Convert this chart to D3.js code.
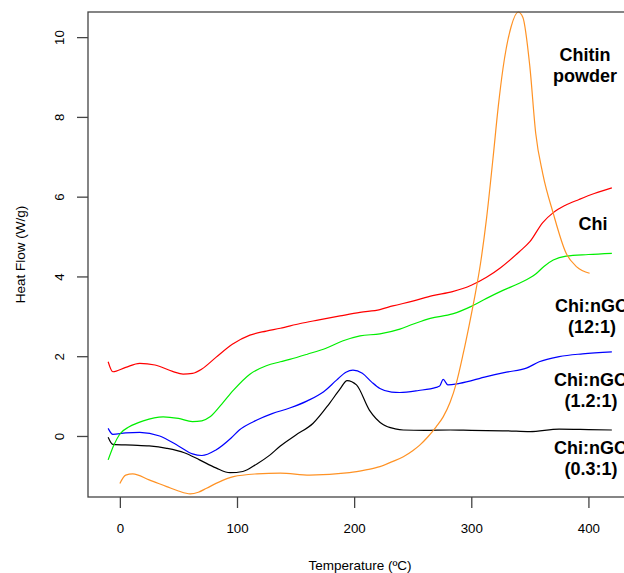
<!DOCTYPE html>
<html>
<head>
<meta charset="utf-8">
<script src="https://cdn.jsdelivr.net/npm/d3@7"></script>
<style>
  html, body { margin: 0; padding: 0; background: #fff; }
  svg { display: block; font-family: "Liberation Sans", Arial, sans-serif; }
</style>
</head>
<body>
<svg id="chart" width="624" height="573"></svg>
<script>
// ---- Data ----
const xTicks = [0, 100, 200, 300, 400];
const yTicks = [0, 2, 4, 6, 8, 10];

const chiT = [-10, -6, 5, 17, 30, 45, 54, 62, 70, 82, 96, 111, 125, 137, 154, 170, 188, 205, 222, 233, 250, 267, 284, 300, 313, 325, 341, 350, 361, 370, 380, 392, 405, 420];
const chiH = [1.86, 1.61, 1.72, 1.82, 1.78, 1.62, 1.55, 1.57, 1.68, 1.97, 2.30, 2.53, 2.63, 2.70, 2.82, 2.91, 3.01, 3.10, 3.17, 3.26, 3.38, 3.52, 3.62, 3.78, 3.98, 4.22, 4.62, 4.87, 5.35, 5.60, 5.78, 5.93, 6.08, 6.22];

const g12T = [-10, -5, 0, 8, 20, 37, 50, 62, 70, 77, 87, 97, 111, 125, 137, 145, 160, 176, 190, 205, 222, 239, 250, 265, 284, 300, 313, 327, 341, 355, 362, 370, 381, 400, 420];
const g12H = [-0.60, -0.22, 0.05, 0.23, 0.38, 0.48, 0.44, 0.36, 0.38, 0.48, 0.80, 1.15, 1.55, 1.76, 1.86, 1.92, 2.05, 2.20, 2.38, 2.51, 2.56, 2.68, 2.80, 2.95, 3.06, 3.25, 3.45, 3.65, 3.83, 4.06, 4.25, 4.41, 4.51, 4.55, 4.58];

const g12bT = [-10, -6, 5, 17, 34, 50, 62, 70, 82, 95, 102, 117, 130, 145, 160, 174, 185, 193, 199, 207, 215, 222, 232, 239, 255, 270, 273, 276, 280, 290, 313, 330, 347, 358, 375, 395, 420];
const g12bH = [0.19, 0.04, 0.08, 0.09, 0.00, -0.25, -0.45, -0.49, -0.35, -0.05, 0.15, 0.40, 0.56, 0.70, 0.88, 1.11, 1.40, 1.60, 1.65, 1.57, 1.35, 1.19, 1.10, 1.09, 1.14, 1.22, 1.25, 1.42, 1.28, 1.32, 1.49, 1.60, 1.70, 1.86, 1.99, 2.06, 2.11];

const g03T = [-10, -6, 11, 25, 40, 55, 68, 82, 94, 105, 117, 128, 137, 150, 165, 179, 188, 194, 202, 213, 225, 235, 242, 260, 282, 300, 330, 350, 375, 400, 420];
const g03H = [-0.03, -0.21, -0.23, -0.25, -0.31, -0.42, -0.60, -0.80, -0.92, -0.89, -0.70, -0.48, -0.25, 0.02, 0.32, 0.82, 1.18, 1.39, 1.28, 0.65, 0.28, 0.18, 0.15, 0.14, 0.15, 0.14, 0.13, 0.11, 0.17, 0.16, 0.15];

const chitinT = [0, 5, 11, 25, 40, 50, 60, 67, 74, 85, 97, 117, 137, 162, 196, 210, 222, 232, 242, 250, 256, 263, 270, 276, 282, 287, 293, 298, 303, 308, 313, 318.5, 323, 327, 334, 340, 344, 350, 355, 361, 370, 381, 390, 401];
const chitinH = [-1.19, -0.98, -0.95, -1.10, -1.27, -1.38, -1.45, -1.41, -1.31, -1.15, -1.02, -0.95, -0.93, -0.98, -0.92, -0.85, -0.77, -0.65, -0.52, -0.37, -0.23, -0.02, 0.23, 0.48, 0.85, 1.30, 2.05, 2.75, 3.50, 4.35, 5.45, 6.95, 8.25, 9.20, 10.26, 10.63, 10.50, 9.26, 7.59, 6.58, 5.58, 4.58, 4.24, 4.08];

const seriesNames = ["Chitin powder", "Chi", "Chi:nGO (12:1)", "Chi:nGO (1.2:1)", "Chi:nGO (0.3:1)"];
const seriesColors = ["#FF9224", "#FF0000", "#00EE00", "#0000FF", "#000000"];

// ---- Layout ----
const svg = d3.select("#chart");
const mLeft = 88, mRight = 632, mTop = 12, mBottom = 497;

const x = d3.scaleLinear().domain([-27.2, 437.2]).range([mLeft, mRight]);
const y = d3.scaleLinear().domain([-1.53, 10.63]).range([mBottom, mTop]);

const series = [
  { T: chitinT, H: chitinH },
  { T: chiT, H: chiH },
  { T: g12T, H: g12H },
  { T: g12bT, H: g12bH },
  { T: g03T, H: g03H }
];

const line = d3.line()
  .x(d => x(d[0]))
  .y(d => y(d[1]))
  .curve(d3.curveMonotoneX);

const drawOrder = [4, 3, 2, 1, 0];
drawOrder.forEach(i => {
  const s = series[i];
  const pts = s.T.map((t, k) => [t, s.H[k]]);
  svg.append("path")
    .attr("d", line(pts))
    .attr("fill", "none")
    .attr("stroke", seriesColors[i])
    .attr("stroke-width", 1.2)
    .attr("stroke-linejoin", "round");
});

// box
svg.append("rect")
  .attr("x", mLeft).attr("y", mTop)
  .attr("width", mRight - mLeft).attr("height", mBottom - mTop)
  .attr("fill", "none").attr("stroke", "#444").attr("stroke-width", 1.3);

// x axis
const xAxis = svg.append("g")
  .attr("transform", `translate(0,${mBottom})`)
  .call(d3.axisBottom(x).tickValues(xTicks).tickSize(11).tickSizeOuter(0).tickFormat(d3.format("d")));
xAxis.select(".domain").remove();
xAxis.selectAll(".tick line").attr("stroke", "#444").attr("stroke-width", 1.3);
xAxis.selectAll(".tick text")
  .attr("y", 36).attr("dy", 0)
  .attr("font-size", 13.3).attr("fill", "#000")
  .attr("font-family", "Liberation Sans, Arial, sans-serif");

// y axis
const yAxis = svg.append("g")
  .attr("transform", `translate(${mLeft},0)`)
  .call(d3.axisLeft(y).tickValues(yTicks).tickSize(11).tickSizeOuter(0).tickFormat(d3.format("d")));
yAxis.select(".domain").remove();
yAxis.selectAll(".tick line").attr("stroke", "#444").attr("stroke-width", 1.3);
yAxis.selectAll(".tick text")
  .attr("x", 0).attr("dy", 0)
  .attr("transform", "translate(-24,0) rotate(-90)")
  .attr("text-anchor", "middle")
  .attr("font-size", 13.3).attr("fill", "#000")
  .attr("font-family", "Liberation Sans, Arial, sans-serif");

// axis titles
svg.append("text")
  .attr("x", (mLeft + mRight) / 2).attr("y", 570)
  .attr("text-anchor", "middle").attr("font-size", 13.5)
  .text("Temperature (ºC)");
svg.append("text")
  .attr("transform", `translate(24.5,${(mTop + mBottom) / 2}) rotate(-90)`)
  .attr("text-anchor", "middle").attr("font-size", 13.5)
  .text("Heat Flow (W/g)");

// series labels (the reference crops them at the right edge)
const labels = [
  { lines: ["Chitin", "powder"], cx: 585, y0: 61 },
  { lines: ["Chi"], cx: 593, y0: 230 },
  { lines: ["Chi:nGO", "(12:1)"], cx: 592, y0: 312 },
  { lines: ["Chi:nGO", "(1.2:1)"], cx: 591, y0: 386 },
  { lines: ["Chi:nGO", "(0.3:1)"], cx: 591, y0: 454 }
];
labels.forEach(l => {
  const t = svg.append("text")
    .attr("text-anchor", "middle")
    .attr("font-size", 18).attr("font-weight", "bold").attr("fill", "#000");
  l.lines.forEach((s, i) => {
    t.append("tspan").attr("x", l.cx).attr("y", l.y0 + i * 21).text(s);
  });
});
</script>
</body>
</html>
